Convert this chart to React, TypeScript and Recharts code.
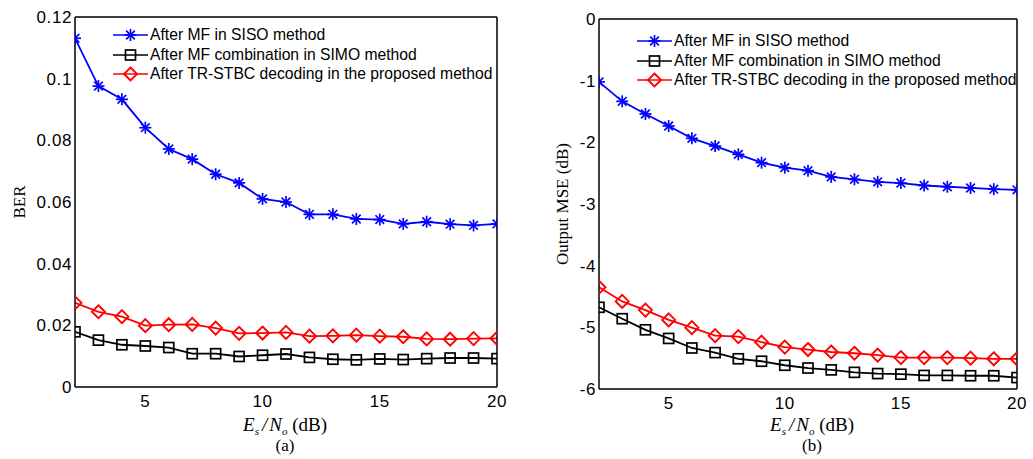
import React from "react";
import { LineChart, Line, XAxis, YAxis } from "recharts";

const snr = [2, 3, 4, 5, 6, 7, 8, 9, 10, 11, 12, 13, 14, 15, 16, 17, 18, 19, 20];

const berSiso = [0.1131, 0.0976, 0.0933, 0.0841, 0.0772, 0.0739, 0.069, 0.0662, 0.061, 0.06, 0.056, 0.056, 0.0545, 0.0543, 0.0529, 0.0536, 0.0528, 0.0524, 0.0529];
const berSimo = [0.0179, 0.0152, 0.0137, 0.0133, 0.0128, 0.0108, 0.0108, 0.0099, 0.0103, 0.0107, 0.0096, 0.009, 0.0088, 0.0091, 0.0089, 0.0092, 0.0094, 0.0094, 0.0092];
const berProposed = [0.0273, 0.0244, 0.0228, 0.0199, 0.0202, 0.0203, 0.0191, 0.0174, 0.0175, 0.0177, 0.0165, 0.0166, 0.0168, 0.0165, 0.0163, 0.0156, 0.0155, 0.0157, 0.0158];

const mseSiso = [-1.02, -1.335, -1.54, -1.735, -1.935, -2.06, -2.195, -2.33, -2.41, -2.46, -2.56, -2.6, -2.64, -2.66, -2.7, -2.72, -2.74, -2.76, -2.77];
const mseSimo = [-4.675, -4.86, -5.04, -5.18, -5.335, -5.41, -5.51, -5.55, -5.615, -5.66, -5.69, -5.73, -5.75, -5.76, -5.78, -5.78, -5.785, -5.785, -5.815];
const mseProposed = [-4.35, -4.58, -4.72, -4.88, -5.005, -5.135, -5.15, -5.24, -5.32, -5.36, -5.4, -5.42, -5.45, -5.49, -5.49, -5.49, -5.5, -5.51, -5.51];

const xTicks = [5, 10, 15, 20];
const berTicks = [0, 0.02, 0.04, 0.06, 0.08, 0.1, 0.12];
const mseTicks = [-6, -5, -4, -3, -2, -1, 0];

const seriesNames = [
  "After MF in SISO method",
  "After MF combination in SIMO method",
  "After TR-STBC decoding in the proposed method",
];

const BLUE = "#0000ff";
const RED = "#ff0000";
const BLACK = "#000000";

const tickFont = { fontFamily: "Liberation Sans, Arial", fontSize: 17, fill: "#000", letterSpacing: 0.6 };
const frame = { stroke: "#000", strokeWidth: 1.5 };
const inTick = { stroke: "#000", strokeWidth: 1.2 };

function Star({ cx, cy }: { cx: number; cy: number }) {
  const r = 6;
  const d = r * 0.72;
  return (
    <g stroke={BLUE} strokeWidth={1.7}>
      <line x1={cx - r} y1={cy} x2={cx + r} y2={cy} />
      <line x1={cx} y1={cy - r} x2={cx} y2={cy + r} />
      <line x1={cx - d} y1={cy - d} x2={cx + d} y2={cy + d} />
      <line x1={cx - d} y1={cy + d} x2={cx + d} y2={cy - d} />
    </g>
  );
}

function Square({ cx, cy }: { cx: number; cy: number }) {
  return <rect x={cx - 5} y={cy - 5} width={10} height={10} fill="none" stroke={BLACK} strokeWidth={1.7} />;
}

function Diamond({ cx, cy }: { cx: number; cy: number }) {
  const r = 6.5;
  return (
    <polygon
      points={`${cx},${cy - r} ${cx + r},${cy} ${cx},${cy + r} ${cx - r},${cy}`}
      fill="none"
      stroke={RED}
      strokeWidth={1.9}
    />
  );
}

const markers = [Star, Square, Diamond];
const colors = [BLUE, BLACK, RED];
const keys = ["siso", "simo", "proposed"];

// eslint-disable-next-line @typescript-eslint/no-explicit-any
const dotFor = (M: typeof Star) => (p: any) => <M key={p.index} cx={p.cx} cy={p.cy} />;

function LegendBox({ left, top }: { left: number; top: number }) {
  return (
    <div style={{ position: "absolute", left, top }}>
      {seriesNames.map((name, i) => {
        const M = markers[i];
        return (
          <div key={name} style={{ display: "flex", alignItems: "center", height: 19.7 }}>
            <svg width={36} height={16} style={{ overflow: "visible" }}>
              <line x1={0} y1={8} x2={35} y2={8} stroke={colors[i]} strokeWidth={1.7} />
              <M cx={17.5} cy={8} />
            </svg>
            <span
              style={{
                fontFamily: "Liberation Sans, Arial",
                fontSize: 15.7,
                marginLeft: 1,
                whiteSpace: "nowrap",
                lineHeight: 1,
              }}
            >
              {name}
            </span>
          </div>
        );
      })}
    </div>
  );
}

function XLabel({ center, caption }: { center: number; caption: string }) {
  const serif = { fontFamily: "Liberation Serif, Times New Roman", fontSize: 19, color: "#000" };
  const sub = { fontSize: 11, fontStyle: "italic", verticalAlign: "-4px" } as const;
  return (
    <>
      <div style={{ ...serif, position: "absolute", left: center - 100, width: 200, top: 414, lineHeight: "22px", textAlign: "center", whiteSpace: "nowrap" }}>
        <i>E</i>
        <span style={sub}>s</span>
        <i style={{ margin: "0 2px 0 3px" }}>/</i>
        <i>N</i>
        <span style={sub}>o</span>
        <span> (dB)</span>
      </div>
      <div style={{ ...serif, fontSize: 17, position: "absolute", left: center - 50, width: 100, top: 436, lineHeight: "20px", textAlign: "center" }}>
        {caption}
      </div>
    </>
  );
}

function YLabel({ cx, cy, text }: { cx: number; cy: number; text: string }) {
  return (
    <div
      style={{
        position: "absolute",
        left: cx - 100,
        top: cy - 10,
        width: 200,
        height: 20,
        lineHeight: "20px",
        textAlign: "center",
        transform: "rotate(-90deg)",
        fontFamily: "Liberation Serif, Times New Roman",
        fontSize: 17,
        whiteSpace: "nowrap",
      }}
    >
      {text}
    </div>
  );
}

function Panel({
  rows,
  domain,
  yTicks,
  left,
  yWidth,
  top,
}: {
  rows: Record<string, number>[];
  domain: [number, number];
  yTicks: number[];
  left: number;
  yWidth: number;
  top: number;
}) {
  const plotRight = 497;
  const width = 515;
  return (
    <div style={{ position: "absolute", left, top: 0 }}>
      <LineChart width={width} height={top + 370 + 30} data={rows} margin={{ top, right: width - plotRight, left: 0, bottom: 0 }}>
        <XAxis
          dataKey="snr"
          type="number"
          domain={[2, 20]}
          ticks={xTicks}
          allowDataOverflow
          axisLine={frame}
          tickLine={false}
          tickSize={6}
          tickMargin={2}
          tick={tickFont}
          height={30}
          interval={0}
        />
        <XAxis xAxisId="bm" dataKey="snr" type="number" domain={[2, 20]} ticks={xTicks} orientation="bottom" mirror axisLine={false} tick={false} tickSize={4} tickLine={inTick} />
        <XAxis xAxisId="tm" dataKey="snr" type="number" domain={[2, 20]} ticks={xTicks} orientation="top" mirror axisLine={frame} tick={false} tickSize={4} tickLine={inTick} />
        <YAxis
          type="number"
          domain={domain}
          ticks={yTicks}
          allowDataOverflow
          width={yWidth}
          axisLine={frame}
          tickLine={false}
          tickSize={0}
          tickMargin={3}
          tick={tickFont}
          interval={0}
        />
        <YAxis yAxisId="lm" type="number" domain={domain} ticks={yTicks} orientation="left" mirror axisLine={false} tick={false} tickSize={4} tickLine={inTick} />
        <YAxis yAxisId="rm" type="number" domain={domain} ticks={yTicks} orientation="right" mirror axisLine={frame} tick={false} tickSize={4} tickLine={inTick} />
        {[2, 1, 0].map((i) => (
          <Line
            key={keys[i]}
            dataKey={keys[i]}
            stroke={colors[i]}
            strokeWidth={1.8}
            dot={dotFor(markers[i])}
            activeDot={false}
            isAnimationActive={false}
          />
        ))}
      </LineChart>
    </div>
  );
}

const rowsBer = snr.map((x, i) => ({ snr: x, siso: berSiso[i], simo: berSimo[i], proposed: berProposed[i] }));
const rowsMse = snr.map((x, i) => ({ snr: x, siso: mseSiso[i], simo: mseSimo[i], proposed: mseProposed[i] }));

export default function App() {
  return (
    <div style={{ position: "absolute", left: 0, top: 0, width: 1033, height: 459, overflow: "hidden", background: "#fff" }}>
      <Panel rows={rowsBer} domain={[0, 0.12]} yTicks={berTicks} left={0} yWidth={75} top={17} />
      <Panel rows={rowsMse} domain={[-6, 0]} yTicks={mseTicks} left={520} yWidth={79} top={19} />
      <LegendBox left={113} top={25} />
      <LegendBox left={637} top={31} />
      <YLabel cx={20} cy={202} text="BER" />
      <YLabel cx={563} cy={204} text="Output MSE (dB)" />
      <XLabel center={285} caption="(a)" />
      <XLabel center={812} caption="(b)" />
    </div>
  );
}
